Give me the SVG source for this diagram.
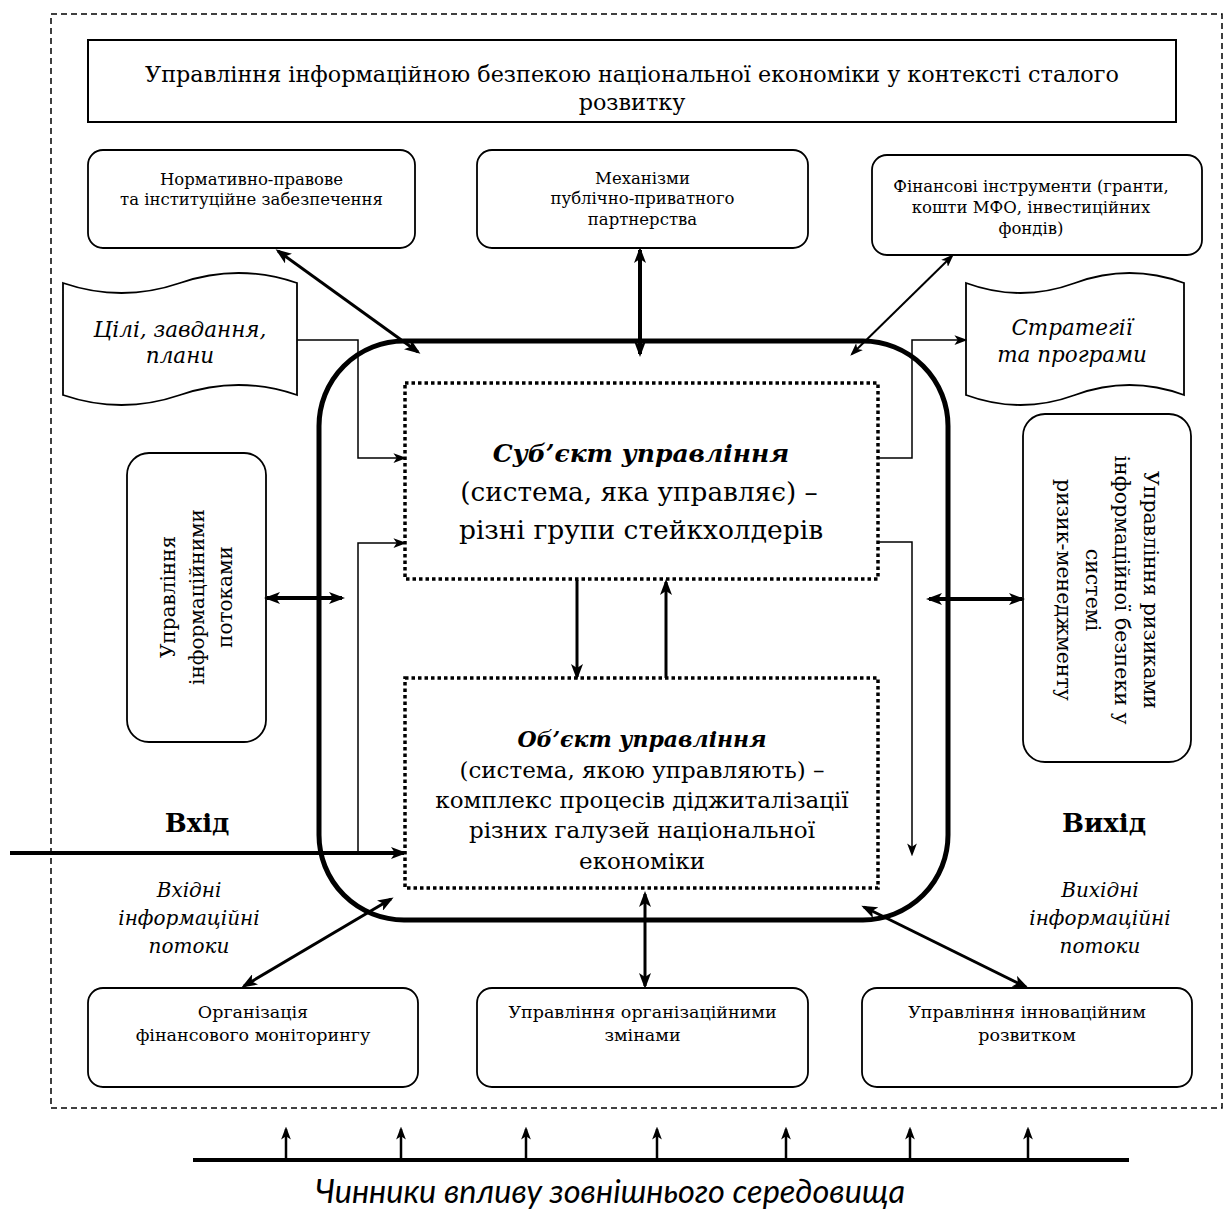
<svg xmlns="http://www.w3.org/2000/svg" width="1226" height="1218" viewBox="0 0 1226 1218">
<style>
.t{font-family:"DejaVu Serif",serif;fill:#000}
.c{text-anchor:middle}
.box{fill:#fff;stroke:#000;stroke-width:1.8}
.dot{fill:none;stroke:#000;stroke-width:3.5;stroke-dasharray:3.5 3}
.thin{fill:none;stroke:#000;stroke-width:1.5}
.ln{fill:none;stroke:#000}
.top{font-size:16.5px}
.bot{font-size:17.5px}
</style>
<defs>
<marker id="ah" viewBox="0 0 16 12" refX="13" refY="6" markerWidth="16" markerHeight="12" markerUnits="userSpaceOnUse" orient="auto-start-reverse"><path d="M0,0 L16,6 L0,12 L4,6 z" fill="#000"/></marker>
<marker id="as" viewBox="0 0 16 12" refX="13" refY="6" markerWidth="13" markerHeight="10" markerUnits="userSpaceOnUse" orient="auto-start-reverse"><path d="M0,0 L16,6 L0,12 L4,6 z" fill="#000"/></marker>
</defs>
<rect width="1226" height="1218" fill="#fff"/>
<rect id="boundary" x="51" y="14" width="1171" height="1094" fill="none" stroke="#000" stroke-width="1.5" stroke-dasharray="6 4"/>

<g id="title">
<rect x="88" y="40" width="1088" height="82" fill="#fff" stroke="#000" stroke-width="2"/>
<text class="t c" x="632" y="82" font-size="22.3">Управління інформаційною безпекою національної економіки у контексті сталого</text>
<text class="t c" x="632" y="110" font-size="22.3">розвитку</text>
</g>

<g id="normative">
<rect class="box" x="88" y="150" width="327" height="98" rx="15"/>
<text class="t c top" x="251.5" y="185">Нормативно-правове</text>
<text class="t c top" x="251.5" y="205">та інституційне забезпечення</text>
</g>
<g id="ppp">
<rect class="box" x="477" y="150" width="331" height="98" rx="15"/>
<text class="t c top" x="642.5" y="184">Механізми</text>
<text class="t c top" x="642.5" y="204">публічно-приватного</text>
<text class="t c top" x="642.5" y="225">партнерства</text>
</g>
<g id="finance">
<rect class="box" x="872" y="155" width="330" height="100" rx="15"/>
<text class="t c top" x="1031" y="192">Фінансові інструменти (гранти,</text>
<text class="t c top" x="1031" y="213">кошти МФО, інвестиційних</text>
<text class="t c top" x="1031" y="234">фондів)</text>
</g>

<g id="goals">
<path class="box" d="M63,283 Q121.5,303 180,283 Q238.5,263 297,283 L297,395 Q238.5,375 180,395 Q121.5,415 63,395 Z"/>
<text class="t c" x="180" y="337" font-size="21.5" font-style="italic">Цілі, завдання,</text>
<text class="t c" x="180" y="363" font-size="21.5" font-style="italic">плани</text>
</g>
<g id="strategies">
<path class="box" d="M966,283 Q1020.5,303 1075,283 Q1129.5,263 1184,283 L1184,395 Q1129.5,375 1075,395 Q1020.5,415 966,395 Z"/>
<text class="t c" x="1072" y="335" font-size="21.5" font-style="italic">Стратегії</text>
<text class="t c" x="1072" y="362" font-size="21.5" font-style="italic">та програми</text>
</g>

<g id="system">
<rect x="319" y="341" width="629" height="579" rx="85" fill="none" stroke="#000" stroke-width="5"/>
</g>

<g id="subject">
<rect class="dot" x="405" y="383" width="473" height="196"/>
<text class="t c" x="641" y="462" font-size="25" font-weight="bold" font-style="italic">Суб’єкт управління</text>
<text class="t c" x="639" y="501" font-size="26.3">(система, яка управляє) –</text>
<text class="t c" x="641" y="539" font-size="26.5">різні групи стейкхолдерів</text>
</g>
<g id="object">
<rect class="dot" x="405" y="678" width="473" height="210"/>
<text class="t c" x="642" y="747" font-size="22" font-weight="bold" font-style="italic">Об’єкт управління</text>
<text class="t c" x="642" y="778" font-size="23">(система, якою управляють) –</text>
<text class="t c" x="642" y="808" font-size="23">комплекс процесів діджиталізації</text>
<text class="t c" x="642" y="838" font-size="23">різних галузей національної</text>
<text class="t c" x="642" y="869" font-size="23">економіки</text>
</g>

<g id="infoflows">
<rect class="box" x="127" y="453" width="139" height="289" rx="22"/>
<g transform="translate(196,597) rotate(-90)">
<text class="t c" x="0" y="-21" font-size="20">Управління</text>
<text class="t c" x="0" y="8" font-size="20">інформаційними</text>
<text class="t c" x="0" y="36" font-size="20">потоками</text>
</g>
</g>
<g id="riskmgmt">
<rect class="box" x="1023" y="414" width="168" height="348" rx="22"/>
<g transform="translate(1107,590) rotate(90)">
<text class="t c" x="0" y="-37" font-size="20.5">Управління ризиками</text>
<text class="t c" x="0" y="-8" font-size="20.5">інформаційної безпеки у</text>
<text class="t c" x="0" y="21" font-size="20.5">системі</text>
<text class="t c" x="0" y="50" font-size="20.5">ризик-менеджменту</text>
</g>
</g>

<g id="input-label">
<text class="t c" x="197" y="832" font-size="26" font-weight="bold">Вхід</text>
<text class="t c" x="189" y="897" font-size="20" font-style="italic">Вхідні</text>
<text class="t c" x="189" y="925" font-size="20" font-style="italic">інформаційні</text>
<text class="t c" x="189" y="953" font-size="20" font-style="italic">потоки</text>
</g>
<g id="output-label">
<text class="t c" x="1104" y="832" font-size="26" font-weight="bold">Вихід</text>
<text class="t c" x="1100" y="897" font-size="20" font-style="italic">Вихідні</text>
<text class="t c" x="1100" y="925" font-size="20" font-style="italic">інформаційні</text>
<text class="t c" x="1100" y="953" font-size="20" font-style="italic">потоки</text>
</g>

<g id="finmonitoring">
<rect class="box" x="88" y="988" width="330" height="99" rx="15"/>
<text class="t c bot" x="253" y="1018">Організація</text>
<text class="t c bot" x="253" y="1041">фінансового моніторингу</text>
</g>
<g id="orgchange">
<rect class="box" x="477" y="988" width="331" height="99" rx="15"/>
<text class="t c bot" x="642.5" y="1018">Управління організаційними</text>
<text class="t c bot" x="642.5" y="1041">змінами</text>
</g>
<g id="innovation">
<rect class="box" x="862" y="988" width="330" height="99" rx="15"/>
<text class="t c bot" x="1027" y="1018">Управління інноваційним</text>
<text class="t c bot" x="1027" y="1041">розвитком</text>
</g>

<g id="environment">
<text x="610" y="1203" font-family="Lato, 'Open Sans', sans-serif" font-size="32.5" font-style="italic" text-anchor="middle">Чинники впливу зовнішнього середовища</text>
</g>

<g id="connectors">
<line class="ln" x1="278" y1="251" x2="418" y2="352" stroke-width="3" marker-start="url(#ah)" marker-end="url(#ah)"/>
<line class="ln" x1="640" y1="250" x2="640" y2="354" stroke-width="4" marker-start="url(#ah)" marker-end="url(#ah)"/>
<line class="ln" x1="952" y1="256" x2="852" y2="354" stroke-width="2" marker-start="url(#as)" marker-end="url(#as)"/>
<polyline class="thin" points="297,340 358,340 358,458 404,458" marker-end="url(#as)"/>
<polyline class="thin" points="358,853 358,543 404,543" marker-end="url(#as)"/>
<line class="ln" x1="10" y1="853" x2="404" y2="853" stroke-width="4" marker-end="url(#ah)"/>
<polyline class="thin" points="878,458 912,458 912,340 965,340" marker-end="url(#as)"/>
<polyline class="thin" points="878,542 912,542 912,854" marker-end="url(#as)"/>
<line class="ln" x1="577" y1="580" x2="577" y2="677" stroke-width="3" marker-end="url(#ah)"/>
<line class="ln" x1="666" y1="678" x2="666" y2="582" stroke-width="3" marker-end="url(#ah)"/>
<line class="ln" x1="267" y1="598" x2="342" y2="598" stroke-width="4" marker-start="url(#ah)" marker-end="url(#ah)"/>
<line class="ln" x1="929" y1="599" x2="1022" y2="599" stroke-width="4" marker-start="url(#ah)" marker-end="url(#ah)"/>
<line class="ln" x1="244" y1="986" x2="391" y2="899" stroke-width="3" marker-start="url(#ah)" marker-end="url(#ah)"/>
<line class="ln" x1="645" y1="986" x2="645" y2="894" stroke-width="3" marker-start="url(#ah)" marker-end="url(#ah)"/>
<line class="ln" x1="864" y1="907" x2="1026" y2="987" stroke-width="3" marker-start="url(#ah)" marker-end="url(#ah)"/>
<line class="ln" x1="193" y1="1160" x2="1129" y2="1160" stroke-width="4"/>
<g stroke-width="2.5" class="ln">
<line x1="286" y1="1160" x2="286" y2="1129" marker-end="url(#as)"/>
<line x1="401" y1="1160" x2="401" y2="1129" marker-end="url(#as)"/>
<line x1="526" y1="1160" x2="526" y2="1129" marker-end="url(#as)"/>
<line x1="657" y1="1160" x2="657" y2="1129" marker-end="url(#as)"/>
<line x1="786" y1="1160" x2="786" y2="1129" marker-end="url(#as)"/>
<line x1="910" y1="1160" x2="910" y2="1129" marker-end="url(#as)"/>
<line x1="1028" y1="1160" x2="1028" y2="1129" marker-end="url(#as)"/>
</g>
</g>
</svg>
